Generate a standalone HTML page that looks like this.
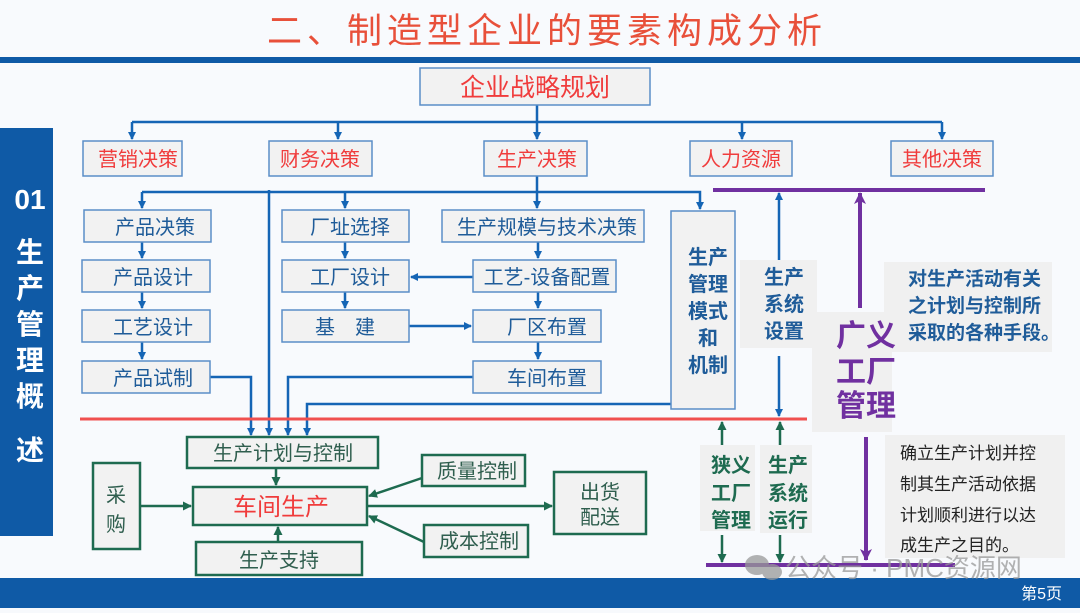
<!DOCTYPE html>
<html><head><meta charset="utf-8"><style>
body{margin:0;width:1080px;height:608px;overflow:hidden;background:#f7f9fc;font-family:"Liberation Sans","Noto Sans CJK SC",sans-serif}
svg text{font-family:"Liberation Sans","Noto Sans CJK SC",sans-serif}
</style></head><body>
<svg width="1080" height="608" viewBox="0 0 1080 608" xmlns="http://www.w3.org/2000/svg">
<defs>
<marker id="ab" markerWidth="8" markerHeight="8" refX="7" refY="4" orient="auto" markerUnits="userSpaceOnUse"><path d="M0,0 L8,4 L0,8 Z" fill="#1565b5"/></marker>
<marker id="ag" markerWidth="9" markerHeight="9" refX="8" refY="4.5" orient="auto" markerUnits="userSpaceOnUse"><path d="M0,0 L9,4.5 L0,9 Z" fill="#1e6b50"/></marker>
<marker id="ap" markerWidth="12" markerHeight="12" refX="11" refY="6" orient="auto" markerUnits="userSpaceOnUse"><path d="M0,0 L12,6 L0,12 L3,6 Z" fill="#7030a0"/></marker>
</defs>
<rect width="1080" height="608" fill="#f8fafd"/>
<text x="547" y="43" font-size="35" fill="#e8503a" text-anchor="middle" letter-spacing="5">二、制造型企业的要素构成分析</text>
<rect x="0" y="57" width="1080" height="6" fill="#0f5aa6"/>
<rect x="0" y="128" width="53" height="408" fill="#0f5aa6"/>
<text x="30" y="209" font-size="28" fill="#fff" text-anchor="middle" font-weight="bold">01</text>
<g font-size="28" fill="#fff" text-anchor="middle" font-weight="bold">
<text x="30" y="262">生</text><text x="30" y="298">产</text><text x="30" y="334">管</text><text x="30" y="370">理</text><text x="30" y="406">概</text><text x="30" y="460">述</text></g>
<rect x="0" y="578" width="1080" height="30" fill="#0f5aa6"/>
<text x="1062" y="599" font-size="16" fill="#fff" text-anchor="end">第5页</text>

<!-- blue connectors -->
<g stroke="#1565b5" stroke-width="2.5" fill="none">
<path d="M537 105 V122"/>
<path d="M132 122 H942"/>
<path d="M132 122 V139" marker-end="url(#ab)"/><path d="M338 122 V139" marker-end="url(#ab)"/><path d="M537 122 V139" marker-end="url(#ab)"/><path d="M742 122 V139" marker-end="url(#ab)"/><path d="M942 122 V139" marker-end="url(#ab)"/>
<path d="M537 176 V208" marker-end="url(#ab)"/>
<path d="M142 192 H700 V209" marker-end="url(#ab)"/>
<path d="M142 192 V208" marker-end="url(#ab)"/><path d="M345 192 V208" marker-end="url(#ab)"/>
<path d="M269 190 V435" marker-end="url(#ab)"/>
<path d="M142 242 V258" marker-end="url(#ab)"/><path d="M142 292 V308" marker-end="url(#ab)"/><path d="M142 342 V359" marker-end="url(#ab)"/>
<path d="M345 242 V258" marker-end="url(#ab)"/><path d="M345 292 V308" marker-end="url(#ab)"/>
<path d="M538 242 V258" marker-end="url(#ab)"/><path d="M538 292 V308" marker-end="url(#ab)"/><path d="M538 342 V359" marker-end="url(#ab)"/>
<path d="M473 277 H411" marker-end="url(#ab)"/>
<path d="M409 326 H471" marker-end="url(#ab)"/>
<path d="M210 377 H251 V435" marker-end="url(#ab)"/>
<path d="M473 377 H288 V435" marker-end="url(#ab)"/>
<path d="M671 404 H307 V435" marker-end="url(#ab)"/>
<path d="M779 282 V193" marker-end="url(#ab)"/>
<path d="M779 356 V416" marker-end="url(#ab)"/>
</g>
<line x1="80" y1="419" x2="807" y2="419" stroke="#f0504f" stroke-width="3"/>

<!-- blue boxes -->
<g fill="#f2f2f2" stroke="#5b8ec8" stroke-width="1.5">
<rect x="420" y="68" width="230" height="37"/>
<rect x="83" y="141" width="99" height="35"/><rect x="269" y="141" width="103" height="35"/><rect x="484" y="141" width="103" height="35"/><rect x="690" y="141" width="102" height="35"/><rect x="891" y="141" width="102" height="35"/>
<rect x="84" y="210" width="127" height="32"/><rect x="82" y="260" width="128" height="32"/><rect x="82" y="310" width="128" height="32"/><rect x="82" y="361" width="128" height="32"/>
<rect x="282" y="210" width="127" height="32"/><rect x="282" y="260" width="127" height="32"/><rect x="282" y="310" width="127" height="32"/>
<rect x="442" y="210" width="202" height="32"/><rect x="473" y="260" width="143" height="32"/><rect x="473" y="310" width="128" height="32"/><rect x="473" y="361" width="128" height="32"/>
<rect x="671" y="211" width="64" height="198"/>
</g>
<g fill="#f03c3c" font-size="20" text-anchor="middle">
<text x="535" y="96" font-size="25">企业战略规划</text>
<text x="138" y="166">营销决策</text><text x="320" y="166">财务决策</text><text x="537" y="166">生产决策</text><text x="741" y="166">人力资源</text><text x="942" y="166">其他决策</text>
</g>
<g fill="#1f5c99" font-size="20" text-anchor="middle">
<text x="155" y="234">产品决策</text><text x="153" y="284">产品设计</text><text x="153" y="334">工艺设计</text><text x="153" y="385">产品试制</text>
<text x="350" y="234">厂址选择</text><text x="350" y="284">工厂设计</text><text x="345" y="334">基　建</text>
<text x="547" y="234">生产规模与技术决策</text><text x="547" y="284">工艺-设备配置</text><text x="547" y="334">厂区布置</text><text x="547" y="385">车间布置</text>
</g>
<g fill="#1f5c99" font-size="20" text-anchor="middle" font-weight="bold">
<text x="708" y="264">生产</text><text x="708" y="291">管理</text><text x="708" y="318">模式</text><text x="708" y="345">和</text><text x="708" y="372">机制</text>
</g>

<!-- green section -->
<g stroke="#1e6b50" stroke-width="2.5" fill="none">
<path d="M276 468 V485" marker-end="url(#ag)"/>
<path d="M140 506 H191" marker-end="url(#ag)"/>
<path d="M278 542 V527" marker-end="url(#ag)"/>
<path d="M422 478 L369 496" marker-end="url(#ag)"/>
<path d="M424 542 L369 516" marker-end="url(#ag)"/>
<path d="M367 506 H552" marker-end="url(#ag)"/>
<path d="M722 449 V422" marker-end="url(#ag)"/><path d="M780 449 V422" marker-end="url(#ag)"/>
<path d="M722 535 V562" marker-end="url(#ag)"/><path d="M780 535 V562" marker-end="url(#ag)"/>
</g>
<g fill="#f2f2f2" stroke="#1e6b50" stroke-width="2.5">
<rect x="187" y="437" width="191" height="31"/><rect x="193" y="487" width="174" height="38"/><rect x="93" y="463" width="47" height="86"/><rect x="196" y="542" width="166" height="33"/>
<rect x="422" y="455" width="103" height="31"/><rect x="424" y="525" width="104" height="32"/><rect x="554" y="472" width="92" height="62"/>
</g>
<g fill="#2f5e4e" font-size="20" text-anchor="middle">
<text x="283" y="460">生产计划与控制</text><text x="477" y="478">质量控制</text><text x="479" y="548">成本控制</text>
<text x="279" y="567">生产支持</text><text x="116" y="502">采</text><text x="116" y="531">购</text>
<text x="600" y="499">出货</text><text x="600" y="524">配送</text>
<text x="281" y="515" fill="#f03c3c" font-size="24">车间生产</text>
</g>

<!-- right side -->
<g fill="#f0f0f0">
<rect x="740" y="260" width="77" height="88"/><rect x="812" y="312" width="80" height="120"/><rect x="884" y="262" width="168" height="90"/>
<rect x="700" y="445" width="55" height="86"/><rect x="760" y="445" width="52" height="88"/><rect x="885" y="435" width="180" height="123"/>
</g>
<line x1="713" y1="190" x2="985" y2="190" stroke="#7030a0" stroke-width="4"/>
<line x1="706" y1="565" x2="955" y2="565" stroke="#7030a0" stroke-width="4"/>
<path d="M860 308 V193" stroke="#7030a0" stroke-width="4" marker-end="url(#ap)"/>
<path d="M866 437 V560" stroke="#7030a0" stroke-width="4" marker-end="url(#ap)"/>
<g fill="#1f5c99" font-size="20" font-weight="bold" text-anchor="middle">
<text x="784" y="284">生产</text><text x="784" y="311">系统</text><text x="784" y="338">设置</text>
</g>
<g fill="#7030a0" font-size="30" font-weight="bold" text-anchor="middle">
<text x="866" y="346">广义</text><text x="866" y="382">工厂</text><text x="866" y="416">管理</text>
</g>
<g fill="#1f5c99" font-size="19" font-weight="bold">
<text x="908" y="285">对生产活动有关</text><text x="908" y="312">之计划与控制所</text><text x="908" y="339">采取的各种手段。</text>
</g>
<g fill="#1e6b50" font-size="20" font-weight="bold" text-anchor="middle">
<text x="731" y="472">狭义</text><text x="731" y="500">工厂</text><text x="731" y="527">管理</text>
<text x="788" y="472">生产</text><text x="788" y="500">系统</text><text x="788" y="527">运行</text>
</g>
<g fill="#222" font-size="17">
<text x="900" y="459">确立生产计划并控</text><text x="900" y="490">制其生产活动依据</text><text x="900" y="521">计划顺利进行以达</text><text x="900" y="551">成生产之目的。</text>
</g>
<g fill="#999" opacity="0.75">
<ellipse cx="757" cy="565" rx="12" ry="10"/><ellipse cx="772" cy="572" rx="10" ry="8"/>
<text x="785" y="577" font-size="26">公众号 · PMC资源网</text>
</g>
</svg>
</body></html>
